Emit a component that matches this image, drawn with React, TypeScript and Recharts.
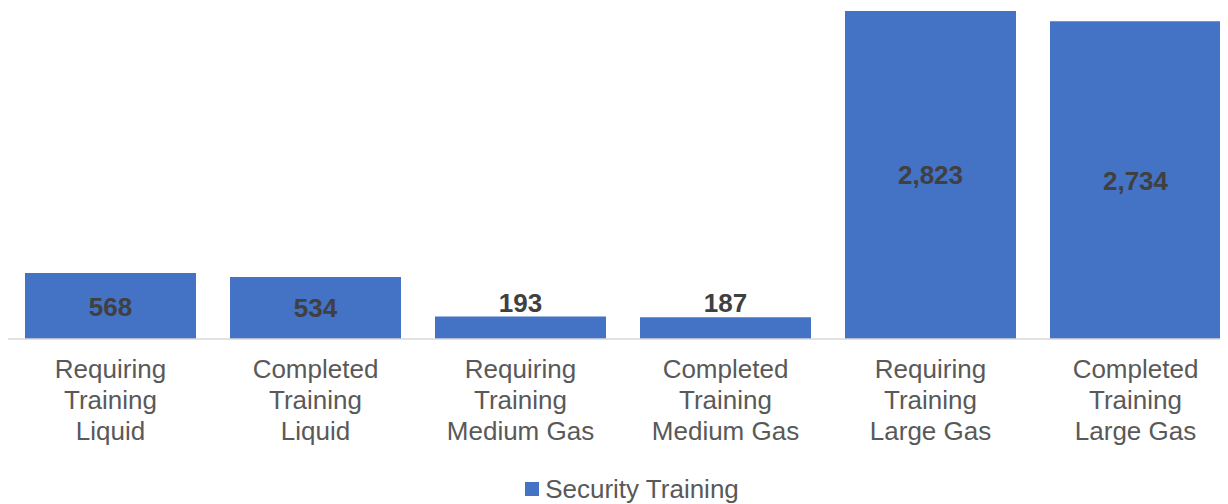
import React from "react";
import { BarChart, Bar, XAxis, YAxis, Legend, LabelList } from "recharts";

const categories = [
  "Requiring Training Liquid",
  "Completed Training Liquid",
  "Requiring Training Medium Gas",
  "Completed Training Medium Gas",
  "Requiring Training Large Gas",
  "Completed Training Large Gas",
];
const tickLines = [
  ["Requiring", "Training", "Liquid"],
  ["Completed", "Training", "Liquid"],
  ["Requiring", "Training", "Medium Gas"],
  ["Completed", "Training", "Medium Gas"],
  ["Requiring", "Training", "Large Gas"],
  ["Completed", "Training", "Large Gas"],
];
const securityTraining = [568, 534, 193, 187, 2823, 2734];

const data = categories.map((name, i) => ({ name, value: securityTraining[i] }));

const FONT = "Arial, 'Liberation Sans', sans-serif";
const BLUE = "#4472C4";

const CategoryTick = (props: any) => {
  const { x, y, index } = props;
  const lines = tickLines[index] || [];
  return (
    <text x={x} y={y} textAnchor="middle" fill="#595959" fontSize={26} fontFamily={FONT}>
      {lines.map((l, i) => (
        <tspan key={i} x={x} dy={i === 0 ? 39 : 31}>
          {l}
        </tspan>
      ))}
    </text>
  );
};

const ValueLabel = (props: any) => {
  const { x, y, width, height, value } = props;
  const cx = x + width / 2;
  const ty = height < 40 ? y - 5 : y + height / 2 + 9.5;
  return (
    <text x={cx} y={ty} textAnchor="middle" fill="#404040" fontSize={26} fontWeight="bold" fontFamily={FONT}>
      {Number(value).toLocaleString("en-US")}
    </text>
  );
};

const LegendContent = () => (
  <div
    style={{
      height: 30,
      display: "flex",
      alignItems: "center",
      justifyContent: "center",
      fontFamily: FONT,
      fontSize: 26,
      color: "#595959",
      paddingLeft: 18,
    }}
  >
    <span style={{ width: 14, height: 14, background: BLUE, display: "inline-block", marginRight: 6 }} />
    <span>Security Training</span>
  </div>
);

export default function App() {
  return (
    <div style={{ width: 1220, height: 496, overflow: "hidden" }}>
      <BarChart
        width={1230}
        height={496}
        data={data}
        margin={{ top: 1, right: 0, bottom: 0, left: 0 }}
      >
        <XAxis
          dataKey="name"
          interval={0}
          height={135}
          tickLine={false}
          tickSize={0}
          tickMargin={0}
          axisLine={{ stroke: "#D9D9D9", strokeWidth: 1.5 }}
          tick={<CategoryTick />}
        />
        <YAxis hide domain={[0, 2840]} />
        <Legend
          verticalAlign="bottom"
          height={30}
          content={<LegendContent />}
          wrapperStyle={{ height: 30 }}
        />
        <Bar dataKey="value" fill={BLUE} barSize={171} isAnimationActive={false}>
          <LabelList dataKey="value" content={<ValueLabel />} />
        </Bar>
      </BarChart>
    </div>
  );
}
